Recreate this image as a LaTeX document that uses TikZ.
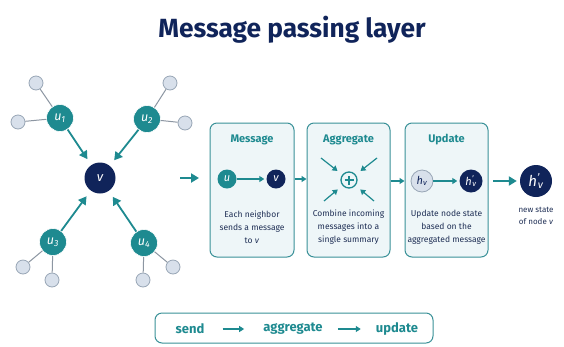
\documentclass[tikz,border=0pt]{standalone}
\usepackage{fontspec}
\setmainfont{Fira Sans}
\usetikzlibrary{arrows.meta}
\definecolor{navy}{HTML}{10245A}
\definecolor{tealc}{HTML}{1E8A90}
\definecolor{leaf}{HTML}{D8E0EB}
\definecolor{leafb}{HTML}{98A6B6}
\definecolor{edgegray}{HTML}{8C96A2}
\definecolor{boxfill}{HTML}{EEF6F8}
\definecolor{boxline}{HTML}{3A9198}
\definecolor{bodytext}{HTML}{1F2F55}
\newcommand{\hprime}{\textit{h}\textsuperscript{\textit{'}}\kern-0.15em\textsubscript{\textit{v}}}
\begin{document}
\begin{tikzpicture}[x=1pt,y=-1pt,
  unode/.style={circle, fill=tealc, draw=white, line width=0.6pt, minimum size=27pt, inner sep=0pt, text=white, font=\itshape\fontsize{12.5}{12.5}\selectfont},
  vnode/.style={circle, fill=navy, minimum size=31pt, inner sep=0pt, text=white, font=\itshape\fontsize{13}{13}\selectfont},
  leafnode/.style={circle, fill=leaf, draw=leafb, line width=0.8pt, minimum size=14pt, inner sep=0pt},
  leafedge/.style={draw=edgegray, line width=1pt},
  stepbox/.style={rounded corners=7pt, draw=boxline, fill=boxfill, line width=1pt, minimum height=134pt},
  boxtitle/.style={text=tealc, font=\bfseries\fontsize{11}{12}\selectfont},
  bodytxt/.style={text=bodytext, align=center, font=\fontsize{8.5}{13}\selectfont},
  bigarrow/.style={-{Triangle[length=8pt,width=9pt]}, draw=tealc, line width=2.2pt},
  smarrow/.style={-{Triangle[length=5pt,width=6pt]}, draw=tealc, line width=1.4pt},
  smallnode/.style={circle, minimum size=19pt, inner sep=0pt, font=\itshape\fontsize{11}{11}\selectfont},
  legtxt/.style={text=tealc, inner sep=0pt, font=\bfseries\fontsize{13}{14}\selectfont},
]
\useasboundingbox (0,0) rectangle (564,346);
\fill[white] (0,0) rectangle (564,346);

% title
\node[text=navy, font=\bfseries\fontsize{26.3}{28}\selectfont] (title) at (292,30) {Message passing layer};

% left graph
\node[vnode] (v) at (100,178) {v};
\node[unode] (u1) at (60,118) {u\textsubscript{1}};
\node[unode] (u2) at (147,119) {u\textsubscript{2}};
\node[unode] (u3) at (53,242) {u\textsubscript{3}};
\node[unode] (u4) at (144,243) {u\textsubscript{4}};

\node[leafnode] (l1a) at (36,83) {};
\node[leafnode] (l1b) at (18,122) {};
\node[leafnode] (l2a) at (170,83) {};
\node[leafnode] (l2b) at (185,123) {};
\node[leafnode] (l3a) at (23,267) {};
\node[leafnode] (l3b) at (52,280) {};
\node[leafnode] (l4a) at (143,280) {};
\node[leafnode] (l4b) at (173,267) {};

\draw[leafedge] (u1) -- (l1a);
\draw[leafedge] (u1) -- (l1b);
\draw[leafedge] (u2) -- (l2a);
\draw[leafedge] (u2) -- (l2b);
\draw[leafedge] (u3) -- (l3a);
\draw[leafedge] (u3) -- (l3b);
\draw[leafedge] (u4) -- (l4a);
\draw[leafedge] (u4) -- (l4b);

\draw[bigarrow, line width=1.8pt, shorten >=7pt] (u1) -- (v);
\draw[bigarrow, line width=1.8pt, shorten >=7pt] (u2) -- (v);
\draw[bigarrow, line width=1.8pt, shorten >=7pt] (u3) -- (v);
\draw[bigarrow, line width=1.8pt, shorten >=7pt] (u4) -- (v);

% graph -> message
\coordinate (g1) at (180,178);
\coordinate (g2) at (199,178);
\draw[bigarrow, line width=2.6pt] (g1) -- (g2);

% step boxes
\node[stepbox, minimum width=84pt] (msg) at (252,190) {};
\node[stepbox, minimum width=83pt] (agg) at (348.5,190) {};
\node[stepbox, minimum width=83pt] (upd) at (446.5,190) {};

\node[boxtitle] (msgt) at (252,140) {Message};
\node[boxtitle] (aggt) at (348.5,140) {Aggregate};
\node[boxtitle] (updt) at (446.5,140) {Update};

% message content
\node[smallnode, fill=tealc, text=white] (mu) at (227,179) {u};
\node[smallnode, fill=navy, text=white] (mv) at (276,179) {v};
\draw[smarrow, shorten >=2pt] (mu) -- (mv);
\node[bodytxt] (msgb) at (252,227) {Each neighbor\\sends a message\\to \textit{v}};

% aggregate content
\node[circle, draw=tealc, line width=1.3pt, minimum size=16pt, inner sep=0pt, fill=boxfill] (plus) at (349,180) {};
\draw[tealc, line width=1.4pt] ([xshift=-4.5pt]plus.center) -- ([xshift=4.5pt]plus.center);
\draw[tealc, line width=1.4pt] ([yshift=-4.5pt]plus.center) -- ([yshift=4.5pt]plus.center);
\coordinate (a1) at (321,158);
\coordinate (a2) at (377,158);
\coordinate (a3) at (324,201);
\coordinate (a4) at (374,201);
\draw[smarrow, line width=1.2pt, shorten >=6pt] (a1) -- (plus);
\draw[smarrow, line width=1.2pt, shorten >=6pt] (a2) -- (plus);
\draw[smarrow, line width=1.2pt, shorten >=6pt] (a3) -- (plus);
\draw[smarrow, line width=1.2pt, shorten >=6pt] (a4) -- (plus);
\node[bodytxt] (aggb) at (348.5,227) {Combine incoming\\messages into a\\single summary};

% update content
\node[smallnode, fill=leaf, draw=leafb, line width=0.8pt, text=navy, minimum size=22pt] (hv) at (422,181) {h\textsubscript{v}};
\node[smallnode, fill=navy, text=white, minimum size=23pt] (hpv) at (471,181) {\hprime};
\draw[smarrow, shorten >=2pt] (hv) -- (hpv);
\node[bodytxt] (updb) at (446.5,227) {Update node state\\based on the\\aggregated message};

% arrows between boxes
\draw[smarrow] (msg.east |- mu) -- (agg.west |- mu);
\draw[smarrow] (agg.east |- hv) -- (upd.west |- hv);

% final
\node[circle, fill=navy, text=white, minimum size=32pt, inner sep=0pt, font=\fontsize{15}{15}\selectfont] (final) at (536,181) {\hprime};
\coordinate (f1) at (493,181);
\draw[bigarrow, line width=2.6pt, shorten >=3pt] (f1) -- (final);
\node[bodytxt, font=\fontsize{8}{12}\selectfont] (finalb) at (536,216) {new state\\of node \textit{v}};

% bottom legend
\node[draw=boxline, line width=1pt, rounded corners=7pt, minimum width=278pt, minimum height=30pt, fill=white] (legend) at (294,328) {};
\node[legtxt] (send) at (190,329) {send};
\node[legtxt] (aggr) at (293,329) {aggregate};
\node[legtxt] (updl) at (397,329) {update};
\draw[smarrow, shorten <=18pt, shorten >=19pt] (send.east) -- (aggr.west);
\draw[smarrow, shorten <=15pt, shorten >=15pt] (aggr.east) -- (updl.west);
\end{tikzpicture}
\end{document}
